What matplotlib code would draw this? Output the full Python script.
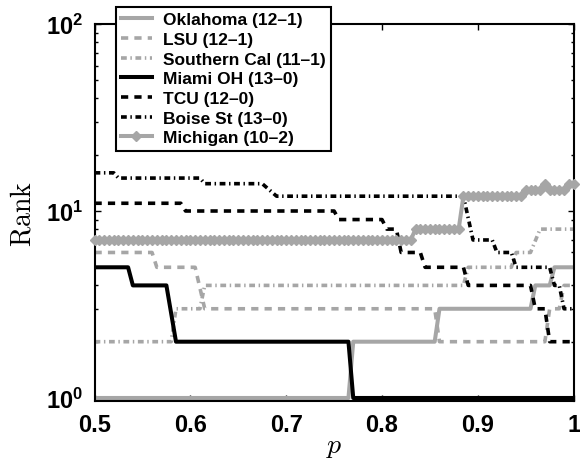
import numpy as np
import matplotlib
matplotlib.use('Agg')
import matplotlib.pyplot as plt

# ---------------- data ----------------
teams = ['Oklahoma (12\u20131)', 'LSU (12\u20131)', 'Southern Cal (11\u20131)',
         'Miami OH (13\u20130)', 'TCU (12\u20130)', 'Boise St (13\u20130)',
         'Michigan (10\u20132)']

# vertex lists (p, rank) of each step curve
oklahoma_p = [0.5, 0.765, 0.77, 0.855, 0.86, 0.955, 0.96, 0.975, 0.98, 1.0]
oklahoma_r = [1, 1, 2, 2, 3, 3, 4, 4, 5, 5]

lsu_p = [0.5, 0.56, 0.565, 0.605, 0.615, 0.855, 0.86, 0.97, 0.975, 0.985, 0.99, 1.0]
lsu_r = [6, 6, 5, 5, 3, 3, 2, 2, 3, 3, 4, 4]

socal_p = [0.5, 0.58, 0.585, 0.61, 0.615, 0.885, 0.89, 0.935, 0.94, 0.955, 0.965, 1.0]
socal_r = [2, 2, 3, 3, 4, 4, 5, 5, 6, 6, 8, 8]

miami_p = [0.5, 0.535, 0.54, 0.575, 0.585, 0.765, 0.77, 1.0]
miami_r = [5, 5, 4, 4, 2, 2, 1, 1]

tcu_p = [0.5, 0.59, 0.595, 0.75, 0.755, 0.80, 0.805, 0.815, 0.82, 0.84, 0.845,
         0.885, 0.89, 0.955, 0.96, 0.97, 0.975, 1.0]
tcu_r = [11, 11, 10, 10, 9, 9, 8, 8, 6, 6, 5, 5, 4, 4, 3, 3, 2, 2]

boise_p = [0.5, 0.52, 0.525, 0.61, 0.615, 0.675, 0.69, 0.885, 0.895, 0.915, 0.92,
           0.935, 0.94, 0.975, 0.98, 0.985, 0.99, 1.0]
boise_r = [16, 16, 15, 15, 14, 14, 12, 12, 7, 7, 6, 6, 5, 5, 4, 4, 3, 3]

# Michigan: rank changes (p where new rank starts), sampled on the p grid
michigan_change_p = [0.5, 0.835, 0.885, 0.95, 0.97, 0.975, 0.995]
michigan_rank = [7, 8, 12, 13, 14, 13, 14]
p_step = 0.005

x_ticks = [0.5, 0.6, 0.7, 0.8, 0.9, 1.0]
x_tick_labels = ['0.5', '0.6', '0.7', '0.8', '0.9', '1']
y_ticks = [1, 10, 100]
y_tick_labels = [r'$\mathbf{10^{0}}$', r'$\mathbf{10^{1}}$', r'$\mathbf{10^{2}}$']

# ---------------- style ----------------
plt.rcParams['font.family'] = ['Liberation Sans', 'DejaVu Sans']
plt.rcParams['font.weight'] = 'bold'
plt.rcParams['mathtext.fontset'] = 'custom'
plt.rcParams['mathtext.rm'] = 'Liberation Sans:bold'
plt.rcParams['mathtext.bf'] = 'Liberation Sans:bold'
plt.rcParams['mathtext.it'] = 'Liberation Sans:bold:italic'

GREY = '#a6a6a6'
SOLID_LW = 2.9
DASH_LW = 2.6
DASH = (0, (2.0, 1.7))
DASHDOT = (0, (1.6, 1.0, 0.4, 1.0))

fig = plt.figure(figsize=(5.8, 4.6), dpi=100)
ax = fig.add_axes([0.163, 0.126, 0.826, 0.8196])

ax.plot(oklahoma_p, oklahoma_r, color=GREY, lw=SOLID_LW, ls='-', label=teams[0])
ax.plot(lsu_p, lsu_r, color=GREY, lw=DASH_LW, ls=DASH, label=teams[1])
ax.plot(socal_p, socal_r, color=GREY, lw=DASH_LW, ls=DASHDOT, label=teams[2])
ax.plot(miami_p, miami_r, color='black', lw=SOLID_LW, ls='-', label=teams[3])
ax.plot(tcu_p, tcu_r, color='black', lw=DASH_LW, ls=DASH, label=teams[4])
ax.plot(boise_p, boise_r, color='black', lw=DASH_LW, ls=DASHDOT, label=teams[5])

p_grid = np.round(np.arange(0.5, 1.0 + 1e-9, p_step), 3)
idx = np.searchsorted(np.array(michigan_change_p), p_grid + 1e-9, side='right') - 1
michigan_grid = np.array(michigan_rank)[idx]
ax.plot(p_grid, michigan_grid, color=GREY, lw=SOLID_LW, ls='-', marker='D',
        markersize=5.3, markerfacecolor=GREY, markeredgecolor=GREY,
        label=teams[6], clip_on=False, zorder=3)

ax.set_yscale('log')
ax.set_xlim(0.5, 1.0)
ax.set_ylim(0.963, 100)

ax.set_xticks(x_ticks)
ax.set_xticklabels(x_tick_labels)
ax.set_yticks(y_ticks)
ax.set_yticklabels(y_tick_labels)
ax.yaxis.set_minor_formatter(matplotlib.ticker.NullFormatter())

ax.tick_params(which='both', direction='in', top=True, right=True, width=1.0)
ax.tick_params(which='major', length=4.5, labelsize=17)
ax.tick_params(which='minor', length=2.5)
ax.tick_params(axis='x', pad=8.5)
ax.tick_params(axis='y', pad=8)
for lab in ax.get_xticklabels():
    lab.set_fontweight('bold')

for s in ax.spines.values():
    s.set_linewidth(1.5)
    s.set_color('black')

ax.set_xlabel(r'$p$', fontsize=20, math_fontfamily='cm', va='center')
ax.xaxis.set_label_coords(0.5, -0.119)
ax.set_ylabel(r'$\mathrm{Rank}$', fontsize=20, math_fontfamily='cm', va='center')
ax.yaxis.set_label_coords(-0.148, 0.5)

leg = ax.legend(loc='upper left', bbox_to_anchor=(116 / 580, 1 - 8 / 460),
                bbox_transform=fig.transFigure, borderaxespad=0.0,
                frameon=True, fancybox=False,
                edgecolor='black', framealpha=1, prop={'weight': 'bold', 'size': 12.5},
                handlelength=1.75, handletextpad=0.65, labelspacing=0.26,
                borderpad=0.3, numpoints=1)
leg.get_frame().set_linewidth(1.5)
leg.set_zorder(10)

fig.savefig('out.png', dpi=100)
